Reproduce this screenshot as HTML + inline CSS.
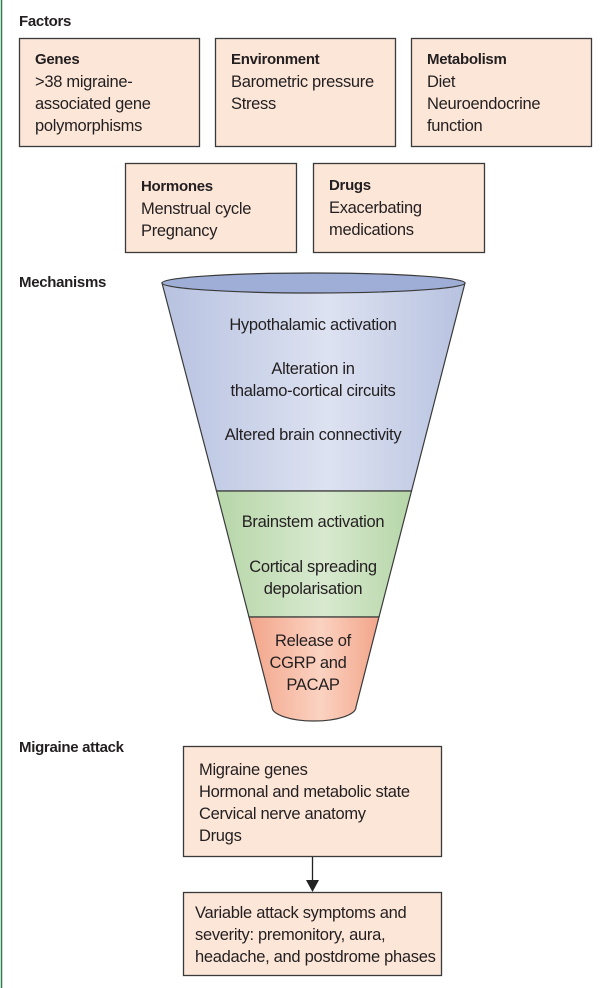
<!DOCTYPE html>
<html><head><meta charset="utf-8"><style>
html,body{margin:0;padding:0;background:#fff;}
svg{display:block;}
text{font-family:"Liberation Sans",sans-serif;fill:#231f20;font-size:16.5px;letter-spacing:-0.3px;}
.b{font-weight:bold;font-size:15px;}
</style></head><body>
<svg width="604" height="988" viewBox="0 0 604 988" xmlns="http://www.w3.org/2000/svg">
<defs>
<linearGradient id="gb" x1="0" x2="1" y1="0" y2="0">
<stop offset="0" stop-color="#b7c2e0"/><stop offset="0.55" stop-color="#dde2f1"/><stop offset="1" stop-color="#b7c2e0"/></linearGradient>
<linearGradient id="gg" x1="0" x2="1" y1="0" y2="0">
<stop offset="0" stop-color="#b6d6a8"/><stop offset="0.55" stop-color="#d8e9cf"/><stop offset="1" stop-color="#b6d6a8"/></linearGradient>
<linearGradient id="go" x1="0" x2="1" y1="0" y2="0">
<stop offset="0" stop-color="#f2a58a"/><stop offset="0.55" stop-color="#fbd2c1"/><stop offset="1" stop-color="#f2a58a"/></linearGradient>
</defs>
<line x1="1.5" y1="0" x2="1.5" y2="988" stroke="#2e7d4f" stroke-width="1.5"/>

<text class="b" x="19" y="26">Factors</text>
<g fill="#fce6d8" stroke="#3a3a3a" stroke-width="1.3">
<rect x="19.5" y="38.5" width="180" height="108"/>
<rect x="215.5" y="38.5" width="180" height="108"/>
<rect x="411.5" y="38.5" width="180" height="108"/>
<rect x="125.5" y="163.5" width="171" height="89"/>
<rect x="313.5" y="163.5" width="171" height="89"/>
<rect x="183.5" y="746.5" width="258" height="110"/>
<rect x="183.5" y="892.5" width="258" height="83"/>
</g>
<text class="b" x="35" y="64">Genes</text>
<text x="35" y="87">&gt;38 migraine-</text>
<text x="35" y="109">associated gene</text>
<text x="35" y="131">polymorphisms</text>
<text class="b" x="231" y="64">Environment</text>
<text x="231" y="87">Barometric pressure</text>
<text x="231" y="109">Stress</text>
<text class="b" x="427" y="64">Metabolism</text>
<text x="427" y="87">Diet</text>
<text x="427" y="109">Neuroendocrine</text>
<text x="427" y="131">function</text>
<text class="b" x="141" y="191">Hormones</text>
<text x="141" y="214">Menstrual cycle</text>
<text x="141" y="236">Pregnancy</text>
<text class="b" x="329" y="190">Drugs</text>
<text x="329" y="213">Exacerbating</text>
<text x="329" y="235">medications</text>

<text class="b" x="19" y="287">Mechanisms</text>
<g stroke="#3a3a3a" stroke-width="1.2">
<path d="M162 283 L216.5 491 L411.5 491 L465 283 Z" fill="url(#gb)"/>
<path d="M216.5 491 L249 617 L379 617 L411.5 491 Z" fill="url(#gg)"/>
<path d="M249 617 L272 707 A42 14 0 0 0 356 707 L379 617 Z" fill="url(#go)"/>
<ellipse cx="313.5" cy="283" rx="151.5" ry="10" fill="#9eaed6"/>
</g>
<g text-anchor="middle">
<text x="313" y="330">Hypothalamic activation</text>
<text x="313" y="374">Alteration in</text>
<text x="313" y="396">thalamo-cortical circuits</text>
<text x="313" y="440">Altered brain connectivity</text>
<text x="313" y="527">Brainstem activation</text>
<text x="313" y="572">Cortical spreading</text>
<text x="313" y="594">depolarisation</text>
<text x="313" y="646">Release of</text>
<text x="308" y="668">CGRP and</text>
<text x="313" y="690">PACAP</text>
</g>

<text class="b" x="19" y="752">Migraine attack</text>
<text x="199" y="775">Migraine genes</text>
<text x="199" y="797">Hormonal and metabolic state</text>
<text x="199" y="819">Cervical nerve anatomy</text>
<text x="199" y="841">Drugs</text>
<line x1="312.5" y1="857" x2="312.5" y2="882" stroke="#222" stroke-width="1.3"/>
<path d="M306 880 L319 880 L312.5 892 Z" fill="#222"/>
<text x="195" y="918">Variable attack symptoms and</text>
<text x="195" y="940">severity: premonitory, aura,</text>
<text x="195" y="962">headache, and postdrome phases</text>
</svg>
</body></html>
